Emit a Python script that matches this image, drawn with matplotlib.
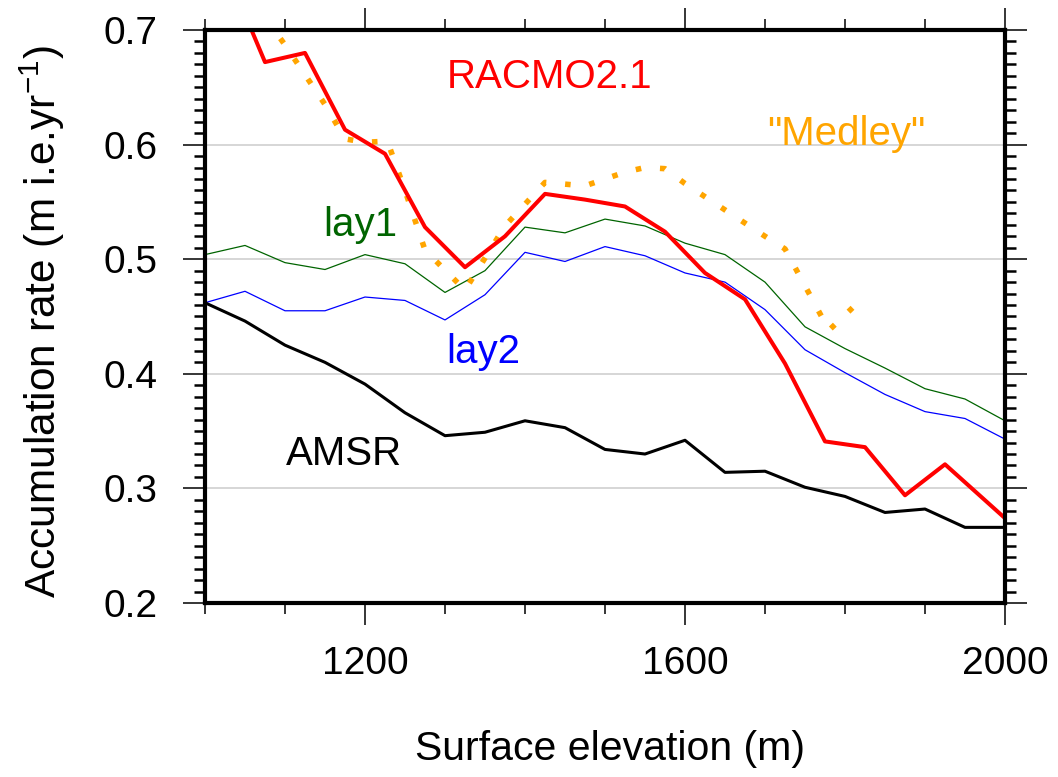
import matplotlib
matplotlib.use("Agg")
import matplotlib.pyplot as plt
from matplotlib.ticker import FixedLocator, MultipleLocator, FormatStrFormatter

plt.rcParams["font.family"] = ["Liberation Sans", "DejaVu Sans"]
plt.rcParams["mathtext.fontset"] = "custom"
plt.rcParams["mathtext.rm"] = "Liberation Sans"
plt.rcParams["mathtext.it"] = "Liberation Sans:italic"

# elevation bins (m)
elev = [1000, 1050, 1100, 1150, 1200, 1250, 1300, 1350, 1400, 1450, 1500,
        1550, 1600, 1650, 1700, 1750, 1800, 1850, 1900, 1950, 2000]
amsr = [0.462, 0.446, 0.425, 0.410, 0.391, 0.366, 0.346, 0.349, 0.359, 0.353, 0.334,
        0.330, 0.342, 0.314, 0.315, 0.301, 0.293, 0.279, 0.282, 0.266, 0.266]
lay2 = [0.462, 0.472, 0.455, 0.455, 0.467, 0.464, 0.447, 0.469, 0.506, 0.498, 0.511,
        0.503, 0.488, 0.480, 0.456, 0.421, 0.401, 0.382, 0.367, 0.361, 0.343]
lay1 = [0.504, 0.512, 0.497, 0.491, 0.504, 0.496, 0.471, 0.490, 0.528, 0.523, 0.535,
        0.529, 0.514, 0.504, 0.480, 0.441, 0.422, 0.405, 0.387, 0.378, 0.359]

racmo_elev = [1025, 1075, 1125, 1175, 1225, 1275, 1325, 1375, 1425, 1475, 1525,
              1575, 1625, 1675, 1725, 1775, 1825, 1875, 1925, 2000]
racmo = [0.755, 0.672, 0.680, 0.613, 0.592, 0.528, 0.493, 0.520, 0.557, 0.552, 0.546,
         0.524, 0.488, 0.465, 0.409, 0.341, 0.336, 0.294, 0.321, 0.274]

medley_elev = [1050, 1100, 1150, 1175, 1200, 1228, 1250, 1275, 1325, 1375, 1425,
               1475, 1525, 1550, 1575, 1600, 1650, 1700, 1725, 1780, 1810]
medley = [0.735, 0.687, 0.635, 0.605, 0.602, 0.603, 0.560, 0.508, 0.473, 0.529, 0.567,
          0.564, 0.576, 0.580, 0.579, 0.566, 0.543, 0.520, 0.509, 0.438, 0.458]

fig = plt.figure(figsize=(10.58, 7.77), dpi=100)
ax = fig.add_axes([205 / 1058, 174 / 777, 800 / 1058, 573 / 777])

ax.plot(elev, lay1, color="#006400", lw=0.9)
ax.plot(elev, lay2, color="#0000ff", lw=0.9)
ax.plot(elev, amsr, color="black", lw=2.2)
ax.plot(medley_elev, medley, color="orange", lw=4, linestyle=(0, (1, 3.4)))
ax.plot(racmo_elev, racmo, color="red", lw=2.9)

ax.set_xlim(1000, 2000)
ax.set_ylim(0.2, 0.7)
ax.xaxis.set_major_locator(FixedLocator([1200, 1600, 2000]))
ax.xaxis.set_minor_locator(MultipleLocator(100))
ax.yaxis.set_major_locator(MultipleLocator(0.1))
ax.yaxis.set_minor_locator(MultipleLocator(0.01))
ax.yaxis.set_major_formatter(FormatStrFormatter("%.1f"))

ax.yaxis.grid(True, which="major", color="#d0d0d0", lw=1.2)
ax.set_axisbelow(True)

ax.tick_params(which="both", direction="out", top=True, right=True)
ax.tick_params(which="major", length=16, width=1.1, labelsize=28)
ax.tick_params(axis="x", which="minor", length=8, width=1.1)
ax.tick_params(axis="y", which="minor", length=8, width=1.8)
ax.tick_params(axis="x", pad=15)
ax.tick_params(axis="y", pad=18)
for sp in ax.spines.values():
    sp.set_linewidth(3)

fig.text(610 / 1058, 1 - 760 / 777, "Surface elevation (m)", fontsize=29.5,
         ha="center", va="baseline")
fig.text(56 / 1058, 1 - 322 / 777, "Accumulation rate (m i.e.yr$^{-1}$)", fontsize=30.5,
         ha="center", va="baseline", rotation=90, rotation_mode="anchor")

ax.text(1431, 0.649, "RACMO2.1", color="red", fontsize=29, ha="center", va="baseline")
ax.text(1802, 0.600, '"Medley"', color="orange", fontsize=29, ha="center", va="baseline")
ax.text(1194, 0.520, "lay1", color="#006400", fontsize=29, ha="center", va="baseline")
ax.text(1348, 0.409, "lay2", color="#0000ff", fontsize=29, ha="center", va="baseline")
ax.text(1174, 0.320, "AMSR", color="black", fontsize=29, ha="center", va="baseline")

fig.savefig("out.png", dpi=100)
